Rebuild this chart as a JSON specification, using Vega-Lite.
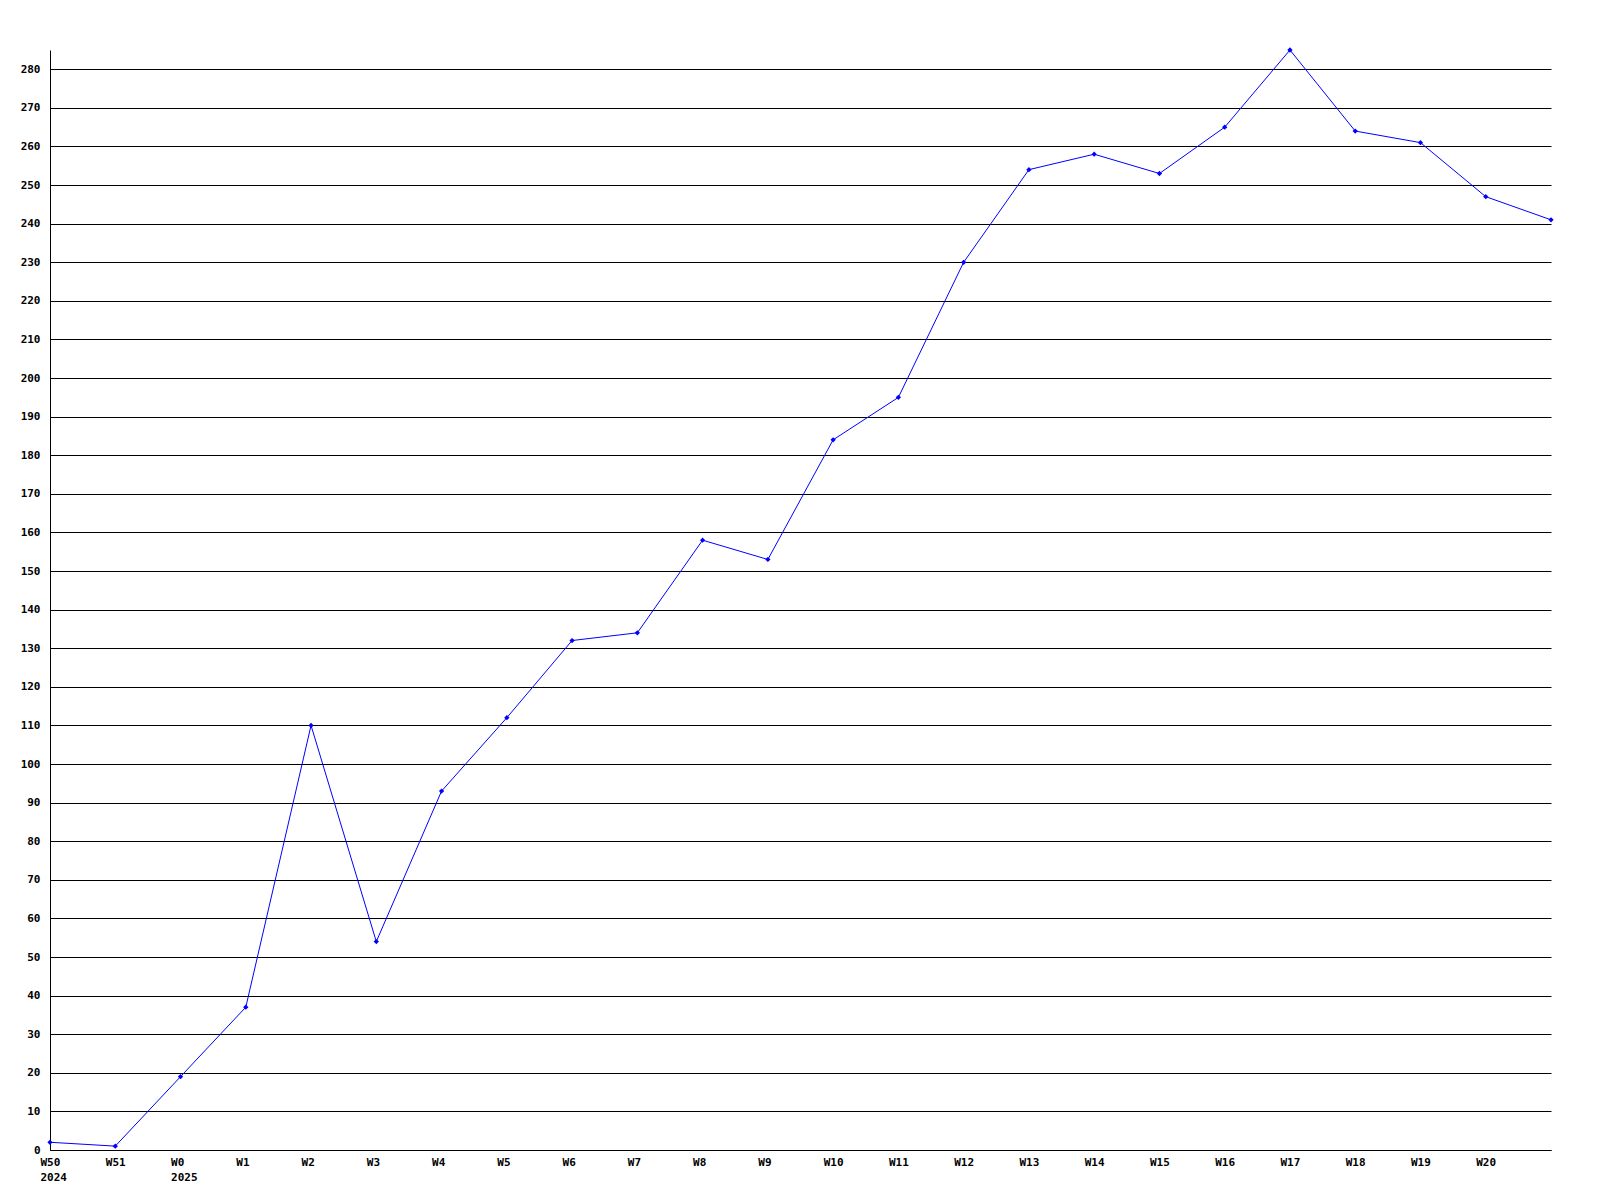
{
  "$schema": "https://vega.github.io/schema/vega-lite/v6.json",
  "width": 1501,
  "height": 1100,
  "autosize": "none",
  "padding": {"left": 50, "top": 50, "right": 49, "bottom": 50},
  "background": "white",
  "data": {"values": [
    {"week": "W50", "value": 2},
    {"week": "W51", "value": 1},
    {"week": "W0", "value": 19},
    {"week": "W1", "value": 37},
    {"week": "W2", "value": 110},
    {"week": "W3", "value": 54},
    {"week": "W4", "value": 93},
    {"week": "W5", "value": 112},
    {"week": "W6", "value": 132},
    {"week": "W7", "value": 134},
    {"week": "W8", "value": 158},
    {"week": "W9", "value": 153},
    {"week": "W10", "value": 184},
    {"week": "W11", "value": 195},
    {"week": "W12", "value": 230},
    {"week": "W13", "value": 254},
    {"week": "W14", "value": 258},
    {"week": "W15", "value": 253},
    {"week": "W16", "value": 265},
    {"week": "W17", "value": 285},
    {"week": "W18", "value": 264},
    {"week": "W19", "value": 261},
    {"week": "W20", "value": 247},
    {"week": "W21", "value": 241}
  ]},
  "config": {
    "view": {"stroke": null},
    "axis": {
      "labelFont": "DejaVu Sans Mono",
      "labelFontWeight": "bold",
      "labelFontSize": 11,
      "labelColor": "black",
      "domainColor": "black",
      "domainWidth": 1,
      "ticks": false,
      "title": null
    }
  },
  "encoding": {
    "x": {
      "field": "week",
      "type": "ordinal",
      "sort": null,
      "scale": {"type": "point", "padding": 0},
      "axis": {
        "grid": false,
        "labelAngle": 0,
        "labelAlign": "left",
        "labelOffset": -10,
        "labelPadding": 6,
        "labelLineHeight": 15,
        "labelExpr": "datum.value == 'W50' ? ['W50','2024'] : datum.value == 'W0' ? ['W0','2025'] : datum.value == 'W21' ? '' : datum.value"
      }
    },
    "y": {
      "field": "value",
      "type": "quantitative",
      "scale": {"domain": [0, 285], "nice": false},
      "axis": {
        "values": [0,10,20,30,40,50,60,70,80,90,100,110,120,130,140,150,160,170,180,190,200,210,220,230,240,250,260,270,280],
        "grid": true,
        "gridColor": "black",
        "gridOpacity": 1,
        "gridWidth": 1,
        "labelPadding": 10
      }
    }
  },
  "layer": [
    {"mark": {"type": "line", "color": "#0000ff", "strokeWidth": 1}},
    {"mark": {"type": "point", "shape": "diamond", "filled": true, "color": "#0000ff", "size": 28, "opacity": 1}}
  ]
}
